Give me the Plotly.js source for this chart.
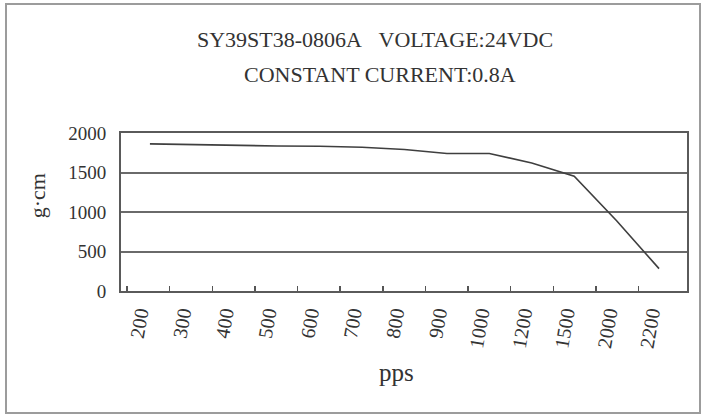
<!DOCTYPE html>
<html>
<head>
<meta charset="utf-8">
<script src="https://cdn.plot.ly/plotly-3.0.1.min.js"></script>
<style>
  html, body { margin: 0; padding: 0; background: #ffffff; }
  #wrap { position: relative; width: 706px; height: 419px; }
  #chart { width: 706px; height: 419px; }
  #frame { position: absolute; left: 5px; top: 3px; width: 696px; height: 411px;
           border: 2px solid #9c9c9c; box-sizing: border-box; pointer-events: none; }
</style>
</head>
<body>
<div id="wrap">
  <div id="chart"></div>
  <div id="frame"></div>
</div>
<script>
// Data
const ppsLabels = ["200", "300", "400", "500", "600", "700", "800", "900", "1000", "1200", "1500", "2000", "2200"];
const torque = [1862, 1850, 1840, 1835, 1833, 1820, 1792, 1741, 1741, 1620, 1454, 889, 283];
const yTicks = [0, 500, 1000, 1500, 2000];
const titleLine1 = "SY39ST38-0806A\u00A0\u00A0\u00A0VOLTAGE:24VDC";
const titleLine2 = "CONSTANT CURRENT:0.8A";
const xTitle = "pps";
const yTitle = "g\u00B7cm";

const idx = ppsLabels.map((_, i) => i);
const FONT = "Liberation Serif, Times New Roman, serif";
const INK = "#333333";

const traces = [
  {
    x: ppsLabels, y: torque, type: "scatter", mode: "lines",
    xaxis: "x", yaxis: "y",
    line: { color: "#3f3f3f", width: 1.6 },
    hoverinfo: "x+y", showlegend: false
  },
  {
    x: idx, y: idx.map(() => null), type: "scatter", mode: "lines",
    xaxis: "x2", yaxis: "y", hoverinfo: "skip", showlegend: false
  }
];

const layout = {
  width: 706, height: 419,
  margin: { l: 121, r: 19, t: 133, b: 128, pad: 0 },
  paper_bgcolor: "#ffffff", plot_bgcolor: "#ffffff",
  font: { family: FONT, color: INK, size: 18 },
  showlegend: false,
  xaxis: {
    type: "category", categoryorder: "array", categoryarray: ppsLabels,
    range: [-0.682, 12.659],
    showticklabels: false, ticks: "", showgrid: false, zeroline: false,
    showline: true, mirror: true, linecolor: "#5a5a5a", linewidth: 2
  },
  xaxis2: {
    overlaying: "x", side: "bottom", type: "linear",
    range: [-0.4215, 12.857],
    tickmode: "array", tickvals: idx, ticktext: ppsLabels,
    ticks: "", tickangle: -80, ticklabelstandoff: 6,
    tickfont: { family: FONT, size: 20, color: INK },
    minor: { tickmode: "array", tickvals: idx.map(i => i - 0.28), ticks: "inside", ticklen: 5, tickwidth: 1.5, tickcolor: "#555555", showgrid: false },
    showgrid: false, zeroline: false, showline: false
  },
  yaxis: {
    range: [0, 2000], tickmode: "array", tickvals: yTicks,
    ticks: "", ticklabelstandoff: 9,
    tickfont: { family: FONT, size: 19, color: INK },
    showgrid: true, gridcolor: "#6a6a6a", gridwidth: 2,
    zeroline: false, showline: true, mirror: true, linecolor: "#5a5a5a", linewidth: 2
  },
  annotations: [
    { text: titleLine1, xref: "paper", yref: "paper", x: 0.448, y: 1.592, xanchor: "center", yanchor: "middle", showarrow: false, font: { family: FONT, size: 22, color: INK } },
    { text: titleLine2, xref: "paper", yref: "paper", x: 0.457, y: 1.370, xanchor: "center", yanchor: "middle", showarrow: false, font: { family: FONT, size: 22, color: INK } },
    { text: xTitle, xref: "paper", yref: "paper", x: 0.487, y: -0.513, xanchor: "center", yanchor: "middle", showarrow: false, font: { family: FONT, size: 25, color: INK } },
    { text: yTitle, xref: "paper", yref: "paper", x: -0.148, y: 0.601, xanchor: "center", yanchor: "middle", textangle: -90, showarrow: false, font: { family: FONT, size: 22, color: INK } }
  ]
};

Plotly.newPlot("chart", traces, layout, { staticPlot: true, displayModeBar: false });
</script>
</body>
</html>
